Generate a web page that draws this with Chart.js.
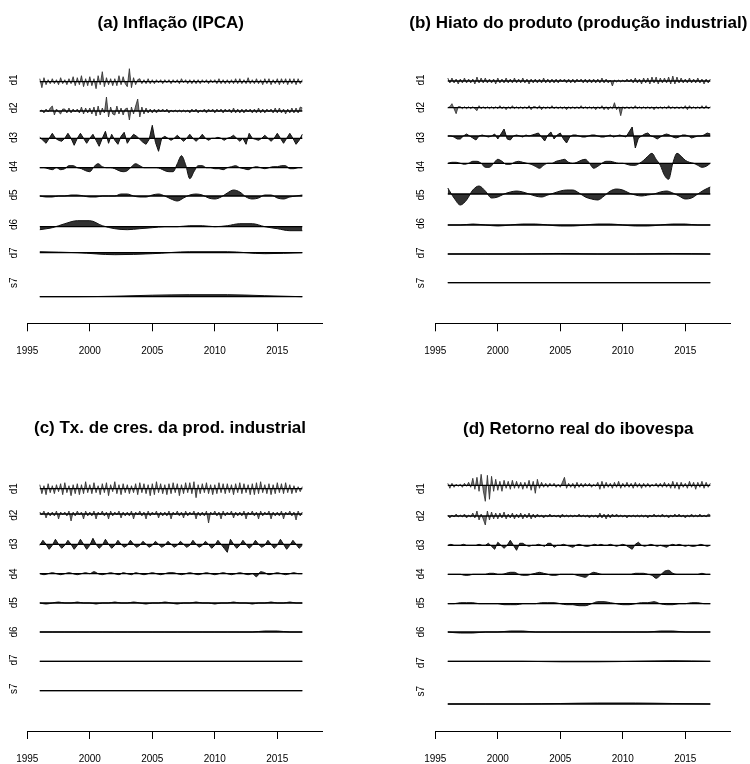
<!DOCTYPE html>
<html>
<head>
<meta charset="utf-8">
<script src="https://cdn.jsdelivr.net/npm/chart.js@4.4.1/dist/chart.umd.min.js"></script>
<style>
  html, body { margin: 0; padding: 0; background: #fff; overflow: hidden; }
  #wrap { position: relative; width: 750px; height: 764px; overflow: hidden; }
  #wrap canvas { position: absolute; }
</style>
</head>
<body>
<div id="wrap">
  <canvas id="pa" width="375" height="382" style="left:0;top:0"></canvas>
  <canvas id="pb" width="375" height="382" style="left:375px;top:0"></canvas>
  <canvas id="pc" width="375" height="397" style="left:0;top:382px"></canvas>
  <canvas id="pd" width="375" height="397" style="left:375px;top:382px"></canvas>
</div>
<script>
/* =================== Data =================== */
const START_YEAR = 1996;
const END_YEAR = 2017;
const rowNames = ["d1", "d2", "d3", "d4", "d5", "d6", "d7", "s7"];
// sampling step (years) of each level
const levelStep = [1/6, 1/6, 1/4, 1/3, 1/2, 1, 3, 3];
const tickYears = [1995, 2000, 2005, 2010, 2015];
const panelTitles = [
  "(a) Inflação (IPCA)",
  "(b) Hiato do produto (produção industrial)",
  "(c) Tx. de cres. da prod. industrial",
  "(d) Retorno real do ibovespa"
];

// ---- (a) Inflação (IPCA) ----
const inflD1 = [
  3,-6,4,-3,2,-2,  3,-2,2,-3,4,-2,  2,-3,3,-2,5,-4,  4,-3,6,-5,3,-4,
  5,-4,3,-7,6,-3,  10,-5,4,-3,3,-4, 3,-4,6,-3,5,-2,  -5,13,-6,4,-3,2,
  3,-2,2,-2,3,-2,  2,-2,2,-1,2,-2,  2,-1,2,-2,2,-1,  2,-2,3,-1,2,-2,
  2,-2,2,-2,2,-2,  2,-1,2,-2,2,-1,  2,-2,3,-2,2,-2,  2,-2,2,-2,3,-2,
  3,-2,2,-2,4,-2,  2,-2,3,-2,2,-3,  3,-2,3,-3,2,-2,  3,-3,3,-2,3,-3,
  3,-2,3,-3,3,-2,  2
];
const inflD2 = [
  0,1,-2,2,-1,3,   5,-4,2,-1,-3,2,  2,-2,3,-2,2,-1,  2,-2,4,-3,3,-2,
  3,-3,4,-5,5,-4,  3,-2,14,-6,4,-3, -4,5,-3,3,-4,2,  3,-9,4,-3,5,12,
  -6,4,-3,3,-2,2,  -2,2,-2,2,-1,2,  -1,2,-2,1,-1,1,  -1,1,-1,1,-1,1,
  -2,2,-1,2,-2,1,  -1,2,-2,2,-1,2,  -2,2,-1,2,-2,2,  -1,2,-2,3,-2,2,
  -2,2,-2,2,-1,2,  -2,2,-2,3,-2,2,  -2,2,-1,2,-2,3,  -2,3,-2,2,-3,2,
  -2,3,-2,3,-2,4,  3
];
const inflD3 = [
  1,-2,-5,0,  5,0,-2,-3,  0,5,0,-7,  0,5,0,-5,  0,4,-2,-8,  0,7,-5,4,
  -2,-6,2,6,  -5,0,4,2,  -1,-4,-6,-1,  13,-4,-13,0,  2,0,-2,0,  3,0,-3,0,
  4,0,-3,0,  4,0,-2,0,  0,1,0,-2,  0,1,3,0,  -3,0,-6,5,  0,-1,-2,0,
  3,0,-3,0,  5,0,-5,0,  5,0,-6,-2,  4
];
const inflD4 = [
  0,0,-1,  -2,0,-2,  -1,2,2,  0,-1,-3,  -4,1,4,  1,0,0,  -1,-3,-4,
  -3,1,4,  2,0,0,  0,0,-1,  -3,-4,-4,  4,12,3,  -11,-4,2,  2,0,0,
  -1,-1,-2,  0,1,2,  0,-1,-2,  0,1,0,  -1,0,1,  1,2,2,  -1,-1,0,  0
];
const inflD5 = [
  0,-1,  -1,0,  0,1,  1,0,  -1,-1,  0,0,  0,2,  2,0,  -1,-1,  1,2,  0,-3,
  -5,-2,  1,2,  1,-2,  -3,-1,  3,6,  4,-1,  -3,-2,  1,1,  -2,-3,  -1,0,  1
];
const inflD6 = [-3, -1, 3, 6, 6, 1, -2, -3, -2, -1, 0, 0, 1, 1, 0, 1, 3, 3, 0, -2, -4, -4];
const inflD7 = [1, 0, -2, -1, 1, 1, -1, 0];
const inflS7 = [0, 0, 0.5, 1.5, 2, 2, 1, 0];

// ---- (b) Hiato do produto ----
const hiatoD1 = [
  3,-2,3,-2,2,-3,  2,-2,3,-2,2,-2,  2,-3,4,-2,3,-2,  3,-2,2,-2,2,-3,
  3,-2,2,-2,3,-2,  2,-2,3,-2,2,-2,  3,-2,2,-3,2,-2,  2,-2,2,-2,3,-2,
  2,-2,2,-2,2,-2,  2,-1,2,-2,2,-2,  2,-2,2,-1,2,-2,  2,-2,2,-2,2,-2,
  2,-2,3,-2,2,-2,  1,-5,1,-1,1,-1,  1,-1,2,-1,2,-2,  3,-2,2,-3,3,-2,
  3,-3,4,-2,4,-3,  3,-2,3,-2,4,-3,  5,-3,4,-2,3,-2,  2,-2,3,-2,2,-2,
  3,-2,2,-3,2,-2,  2
];
const hiatoD2 = [
  0,1,4,-1,-6,1,   1,-1,1,-1,1,-1,  1,-1,-3,2,-1,1,  -1,1,-1,1,-1,1,
  -1,2,-1,1,-2,1,  -1,2,-1,1,-1,1,  -1,1,-1,2,-2,1,  1,-1,2,-2,1,-1,
  1,-1,2,-1,1,-1,  1,-1,1,-2,1,-1,  1,-1,1,-1,2,-1,  1,-1,1,-1,1,-2,
  1,-1,2,-2,1,-2,  1,-1,5,-2,1,-8,  1,-1,1,-1,1,-1,  2,-1,1,-1,1,-1,
  1,-1,1,-2,1,-1,  1,-1,1,-1,2,-1,  1,-1,1,-1,1,-1,  2,-2,2,-1,1,-1,
  1,-1,2,-1,2,-1,  1
];
const hiatoD3 = [
  0,0,-1,-3,  -3,0,2,0,  -2,-4,0,1,  0,-1,0,2,  -3,2,7,-3,  -4,0,1,0,
  -1,1,0,1,  2,3,-1,-5,  1,4,-3,1,  3,-3,-7,-1,  1,1,0,-1,  -1,0,1,1,
  0,-1,-1,0,  1,-1,0,1,  0,-1,4,9,  -12,-2,0,2,  3,0,-1,-3,  -1,1,2,1,
  -1,-2,-1,1,  1,0,-2,-1,  0,0,1,3,  2
];
const hiatoD4 = [
  0,1,1,  0,-1,0,  2,2,0,  -4,-4,0,  4,2,-1,  -1,1,2,  1,0,-1,
  -3,-5,-2,  0,0,2,  3,4,1,  0,1,3,  4,0,-5,  -3,0,2,  2,1,0,
  0,-1,-2,  -2,0,3,  7,10,4,  -2,-12,-16,  0,10,7,  3,1,0,  -2,-4,-3,  0
];
const hiatoD5 = [
  6,-4,  -11,-6,  4,8,  3,-4,  -3,0,  2,3,  2,0,  -2,-3,  -1,1,  3,4,  4,1,
  -3,-5,  -6,-2,  3,5,  4,1,  -1,-2,  -1,0,  2,3,  1,-2,  -5,-4,  0,4,  7
];
const hiatoD6 = [0, 0, 1, 0, -1, 0, 1, 1, 0, -1, -1, 0, 1, 1, 0, -1, -1, 0, 1, 1, 0, 0];
const hiatoD7 = [0, 0, 0, 0.5, 0, 0, 0.5, 0];
const hiatoS7 = [0, 0, 0, 0, 0, 0, 0, 0];

// ---- (c) Tx. de crescimento da produção industrial ----
const prodD1 = [
  4,-5,3,-6,5,-4,  3,-5,4,-3,5,-6,  6,-4,3,-7,4,-5,  5,-6,4,-5,7,-4,
  4,-5,6,-4,3,-6,  5,-4,6,-7,4,-3,  7,-5,4,-6,5,-4,  4,-5,3,-4,5,-6,
  6,-4,5,-5,4,-7,  5,-6,7,-4,5,-5,  4,-6,5,-5,6,-4,  5,-7,4,-5,6,-4,
  6,-5,7,-9,4,-5,  5,-4,6,-5,4,-6,  4,-5,6,-4,5,-5,  5,-4,4,-6,5,-4,
  6,-5,5,-4,4,-6,  5,-6,6,-5,7,-4,  4,-5,5,-6,4,-5,  6,-4,5,-5,6,-4,
  4,-5,3,-4,2,-3,  2
];
const prodD2 = [
  2,-1,3,-4,2,-2,  2,-2,3,-5,2,-1,  2,-2,3,-7,2,-2,  3,-1,2,-5,3,-2,
  2,-2,3,-5,2,-1,  3,-2,2,-5,3,-2,  2,-1,3,-4,2,-2,  2,-2,3,-5,2,-1,
  3,-2,2,-5,3,-2,  2,-1,3,-4,2,-2,  2,-2,3,-5,2,-1,  3,-2,2,-4,3,-2,
  2,-1,3,-5,2,-2,  2,-2,3,-9,2,-1,  3,-2,2,-5,3,-2,  2,-1,3,-4,2,-2,
  2,-2,3,-5,2,-1,  3,-2,2,-5,3,-2,  2,-1,3,-5,2,-2,  2,-2,3,-5,2,-1,
  3,-2,2,-6,3,-2,  2
];
const prodD3 = [
  -1,4,0,-5,  -1,5,0,-4,  -1,4,0,-5,  -1,5,0,-5,  -1,6,0,-4,  -1,5,0,-4,
  -1,4,0,-3,  -1,4,0,-3,  -1,3,0,-3,  -1,3,0,-3,  -1,3,0,-3,  -1,3,0,-3,
  -1,4,0,-3,  -1,3,0,-4,  -1,4,0,-4,  -8,5,0,-4,  -1,4,0,-4,  -1,4,0,-3,
  -1,4,0,-4,  -1,5,0,-5,  -1,4,0,-4,  -1
];
const prodD4 = [
  0,-1,0,  1,0,-1,  0,1,0,  -1,0,1,  0,2,0,  -1,0,1,  0,-1,1,
  0,-1,1,  0,-1,0,  1,0,-1,  0,1,1,  0,-1,0,  1,0,-1,  0,1,0,
  -1,0,1,  0,-1,0,  1,0,-1,  0,-3,2,  1,-1,0,  1,0,-1,  0,1,0,  0
];
const prodD5 = [
  0,-1,  0,1,  0,0,  1,0,  0,-1,  0,0,  1,0,  0,1,  0,-1,  0,0,  1,0,
  -1,0,  0,1,  0,0,  -1,0,  0,1,  0,0,  -1,0,  0,1,  0,0,  1,0,  0
];
const prodD6 = [0, 0, 0, 0, 0, 0, 0, 0, 0, 0, 0, 0, 0, 0, 0, 0, 0, 0, 1, 1, 0, 0];
const prodD7 = [0, 0, 0, 0, 0, 0, 0, 0];
const prodS7 = [0, 0, 0, 0, 0, 0, 0, 0];

// ---- (d) Retorno real do ibovespa ----
const iboD1 = [
  2,-3,2,-2,1,-1,  1,-2,2,-1,3,-2,  7,-4,8,-6,11,-5,  -16,10,-14,9,-6,6,
  -5,4,-6,5,-3,4,  -4,5,-3,4,-3,3,  -4,3,-3,5,-5,4,  -8,6,-3,3,-2,2,
  -2,2,-1,2,-2,1,  -2,3,8,-3,2,-2,  2,-3,3,-2,2,-2,  2,-1,2,-2,1,-1,
  3,-4,4,-3,3,-2,  2,-3,3,-2,4,-3,  2,-2,3,-2,2,-3,  3,-2,2,-3,2,-2,
  2,-2,1,-1,2,-2,  2,-2,3,-2,2,-3,  4,-3,3,-4,3,-2,  2,-3,4,-2,3,-4,
  3,-2,4,-3,3,-2,  2
];
const iboD2 = [
  1,-2,1,-1,2,-1,  1,-1,2,-2,1,-1,  3,-2,5,-4,2,-3,  -9,5,-4,4,-3,3,
  -3,3,-2,4,-3,2,  -2,3,-3,2,-2,3,  -3,2,-2,3,-3,2,  -2,2,-1,1,-2,1,
  -1,2,-1,1,-1,1,  -2,2,-1,1,-1,1,  -1,1,-1,2,-1,1,  -1,1,-2,1,-1,1,
  -2,3,-2,2,-3,2,  -2,2,-1,2,-1,1,  -1,1,-2,1,-1,1,  -1,1,-1,1,-1,1,
  -2,1,-1,2,-1,1,  -1,2,-1,1,-2,1,  -1,2,-1,2,-1,1,  -2,1,-1,2,-1,1,
  -1,2,-1,1,-1,2,  1
];
const iboD3 = [
  0,1,0,0,  0,1,0,0,  0,0,1,0,  0,2,-1,-4,  3,0,-3,0,  5,0,-5,2,
  2,0,-1,0,  0,1,0,-1,  2,2,-2,0,  0,1,0,-1,  -2,0,1,0,  -1,-1,0,1,
  0,1,0,0,  1,0,-1,0,  1,0,-2,-4,  1,3,0,-1,  0,1,0,-1,  0,-1,-2,0,
  1,0,1,0,  -1,0,-1,-1,  0,1,0,-1,  0
];
const iboD4 = [
  0,0,0,  0,-1,-1,  0,0,0,  0,1,1,  0,0,1,  2,2,0,  -1,-1,0,
  1,2,1,  0,-1,-1,  0,0,0,  0,-1,-2,  -3,0,2,  1,0,0,  0,0,0,
  0,0,0,  1,1,1,  0,-1,-4,  -1,3,4,  1,0,0,  0,0,0,  0,1,0,  0
];
const iboD5 = [
  0,0,  1,1,  1,0,  0,0,  0,-1,  -1,-1,  0,0,  0,1,  1,1,  0,-1,  -1,-2,
  -2,0,  2,2,  1,0,  -1,-1,  0,1,  1,2,  0,-1,  -1,0,  0,1,  1,0,  0
];
const iboD6 = [0, -1, -1, 0, 0, 1, 1, 0, 0, 0, 0, 0, 0, 0, 0, 0, 0, 1, 1, 0, 0, 0];
const iboD7 = [0, 0, 0, -0.5, -0.5, 0, 0.5, 0];
const iboS7 = [0, 0, 0, 0.5, 1, 1, 0.5, 0];

/* =================== Layout =================== */
const FONT = '"Liberation Sans", Arial, Helvetica, sans-serif';
const PX_PER_YEAR = 12.5;
const X_SPAN = 23.6;      // years along the axis line (1995 .. 2018.6)
const TICK_PAD = 14;
const AXIS_BOX = 8 + 12 + 2 * TICK_PAD;   // height Chart.js gives the x axis

const panels = [
  { id: "pa", h: 382, series: [inflD1, inflD2, inflD3, inflD4, inflD5, inflD6, inflD7, inflS7],
    x0: 27.3, top: 50, axisY: 323.3, titleX: 170.8, titleY: 23, labelX: 14,
    labelY: [80, 108, 137.5, 166.5, 195, 224.5, 253, 282.7],
    baseY: [81.7, 111, 138.3, 167.7, 196, 226.7, 252.7, 296.7] },
  { id: "pb", h: 382, series: [hiatoD1, hiatoD2, hiatoD3, hiatoD4, hiatoD5, hiatoD6, hiatoD7, hiatoS7],
    x0: 60.3, top: 50, axisY: 323.3, titleX: 203.3, titleY: 23, labelX: 46.7,
    labelY: [80, 107.5, 137.5, 166.5, 195, 223.5, 253, 283],
    baseY: [81, 107.7, 136, 163.3, 194, 225, 254, 282.7] },
  { id: "pc", h: 397, series: [prodD1, prodD2, prodD3, prodD4, prodD5, prodD6, prodD7, prodS7],
    x0: 27.3, top: 80, axisY: 349, titleX: 170, titleY: 46.7, labelX: 14,
    labelY: [106.7, 133.3, 162, 192, 220.7, 250, 278, 306.7],
    baseY: [106.7, 132, 162.3, 191.7, 221, 250, 279.3, 308.7] },
  { id: "pd", h: 397, series: [iboD1, iboD2, iboD3, iboD4, iboD5, iboD6, iboD7, iboS7],
    x0: 60.3, top: 80, axisY: 349, titleX: 203.3, titleY: 47.7, labelX: 46.7,
    labelY: [106.7, 134, 163, 192, 221, 250, 280.7, 309.3],
    baseY: [103.3, 134, 163.3, 192.3, 221.7, 250, 279.3, 322] }
];

/* =================== Charts =================== */
function textPlugin(P, title) {
  return {
    id: "panelText",
    afterDraw(chart) {
      const ctx = chart.ctx;
      ctx.save();
      ctx.fillStyle = "#000";
      ctx.textAlign = "center";
      ctx.textBaseline = "middle";
      ctx.font = "bold 17px " + FONT;
      ctx.fillText(title, P.titleX, P.titleY);
      ctx.font = "10px " + FONT;
      P.labelY.forEach((y, i) => {
        ctx.save();
        ctx.translate(P.labelX, y);
        ctx.rotate(-Math.PI / 2);
        ctx.fillText(rowNames[i], 0, 0);
        ctx.restore();
      });
      ctx.restore();
    }
  };
}

function buildDatasets(P) {
  const sets = [];
  P.series.forEach((vals, k) => {
    const off = P.axisY - P.baseY[k];   // row baseline, px above the x axis
    const step = levelStep[k];
    const fine = k < 2;
    // baseline of the row
    sets.push({
      type: "line", order: -1,
      data: [{ x: START_YEAR, y: off }, { x: END_YEAR, y: off }],
      borderColor: "#000", borderWidth: 1.3, pointRadius: 0, fill: false
    });
    sets.push({
      type: "line", order: 1,
      data: vals.map((v, i) => ({ x: START_YEAR + i * step, y: off + v })),
      borderColor: fine ? "#2a2a2a" : "#111",
      borderWidth: fine ? 0.8 : 1,
      backgroundColor: fine ? "rgba(60,60,60,0.7)" : "rgba(20,20,20,0.88)",
      fill: { value: off }, pointRadius: 0,
      tension: 0, cubicInterpolationMode: k >= 3 ? "monotone" : "default"
    });
  });
  return sets;
}

panels.forEach((P, n) => {
  const right = P.x0 + X_SPAN * PX_PER_YEAR;
  new Chart(document.getElementById(P.id), {
    type: "line",
    data: { datasets: buildDatasets(P) },
    options: {
      responsive: false,
      animation: false,
      devicePixelRatio: 1,
      layout: { padding: { top: P.top, right: 375 - right, bottom: P.h - P.axisY - AXIS_BOX, left: 0 } },
      plugins: { legend: { display: false }, tooltip: { enabled: false }, title: { display: false } },
      scales: {
        x: {
          type: "linear", min: 1995, max: 1995 + X_SPAN, offset: false,
          afterBuildTicks: (s) => { s.ticks = tickYears.map((v) => ({ value: v })); },
          grid: { display: true, drawOnChartArea: false, drawTicks: true, tickLength: 8, color: "#000", lineWidth: 1, offset: false },
          border: { display: true, color: "#000", width: 1 },
          ticks: { color: "#000", font: { family: FONT, size: 10 }, padding: TICK_PAD, maxRotation: 0, autoSkip: false,
                   callback: (v) => String(v) }
        },
        y: {
          type: "linear", min: 0, max: P.axisY - P.top,
          afterFit: (s) => { s.width = P.x0; },
          grid: { display: false }, border: { display: false }, ticks: { display: false }
        }
      }
    },
    plugins: [textPlugin(P, panelTitles[n])]
  });
});
</script>
</body>
</html>
